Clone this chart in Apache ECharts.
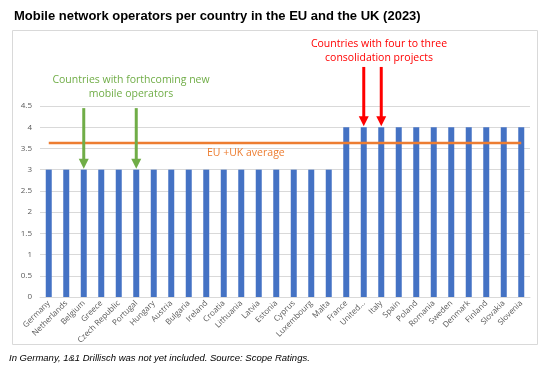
<!DOCTYPE html>
<html><head><meta charset="utf-8">
<script src="https://cdn.jsdelivr.net/npm/echarts@6/dist/echarts.min.js"></script>
<style>html,body{margin:0;padding:0;background:#fff}#c{width:550px;height:368px}</style>
</head><body><div id="c"></div>
<script>
const countries = ['Germany','Netherlands','Belgium','Greece','Czech Republic','Portugal','Hungary','Austria','Bulgaria','Ireland','Croatia','Lithuania','Latvia','Estonia','Cyprus','Luxembourg','Malta','France','United Kingdom','Italy','Spain','Poland','Romania','Sweden','Denmark','Finland','Slovakia','Slovenia'];
const operators = [3,3,3,3,3,3,3,3,3,3,3,3,3,3,3,3,3,4,4,4,4,4,4,4,4,4,4,4];
const euUkAverage = 3.63;
const yTicks = [0,0.5,1,1.5,2,2.5,3,3.5,4,4.5];
const newOperatorCountries = ['Belgium','Portugal'];
const consolidationCountries = ['United Kingdom','Italy'];
// arrow spans in axis units: [start value, tip value]
const greenArrowSpan = [4.45, 3.02];
const redArrowSpan = [5.42, 4.02];

const chart = echarts.init(document.getElementById('c'), null, {renderer:'canvas'});
const FONT = '"Liberation Sans", Arial, sans-serif';
const LBL = '"Open Sans", "Liberation Sans", sans-serif';
const baseGraphic = [
  {type:'rect', shape:{x:12.5, y:30.5, width:525, height:314}, style:{fill:'none', stroke:'#d9d9d9', lineWidth:1}, z:-1},
  {type:'text', style:{text:'In Germany, 1&1 Drillisch was not yet included. Source: Scope Ratings.', fontFamily:FONT, fontStyle:'italic', fontSize:9.5, fill:'#000'}, x:9, y:353},
  {type:'text', style:{text:'Countries with forthcoming new\nmobile operators', fontFamily:LBL, fontSize:10.5, fill:'#70AD47', align:'center', lineHeight:14}, x:131, y:73},
  {type:'text', style:{text:'Countries with four to three\nconsolidation projects', fontFamily:LBL, fontSize:10.5, fill:'#FF0000', align:'center', lineHeight:14}, x:379, y:37},
  {type:'text', style:{text:'EU +UK average', fontFamily:LBL, fontSize:10.5, fill:'#ED7D31', align:'left'}, x:207, y:148}
];
chart.setOption({
  animation:false,
  title:{text:'Mobile network operators per country in the EU and the UK (2023)', left:9, top:5,
    textStyle:{fontFamily:FONT, fontSize:13, fontWeight:'bold', color:'#000'}},
  grid:{left:40, right:20, top:106, bottom:71, containLabel:false},
  xAxis:{type:'category', data:countries,
    axisLine:{lineStyle:{color:'#d9d9d9', width:1}}, axisTick:{show:false},
    axisLabel:{rotate:45, interval:0, fontSize:8, color:'#595959', fontFamily:LBL, margin:5,
      formatter:v => v === 'United Kingdom' ? 'United...' : v}},
  yAxis:{type:'value', min:0, max:4.5, interval:0.5,
    axisLine:{show:false}, axisTick:{show:false},
    splitLine:{lineStyle:{color:'#d9d9d9', width:1}},
    axisLabel:{fontSize:8, color:'#595959', fontFamily:LBL, margin:8}},
  series:[
    {type:'bar', data:operators, barWidth:6, itemStyle:{color:'#4472C4'}, z:2},
    {type:'line', data:countries.map(() => euUkAverage), showSymbol:false, symbol:'none',
     lineStyle:{color:'#ED7D31', width:2.5}, itemStyle:{color:'#ED7D31'}, z:3}
  ],
  graphic:baseGraphic
});

function arrow(cat, span, color){
  const a = chart.convertToPixel({seriesIndex:0}, [cat, span[0]]);
  const b = chart.convertToPixel({seriesIndex:0}, [cat, span[1]]);
  const headH = 10, headW = 5;
  return [
    {type:'line', shape:{x1:a[0], y1:a[1], x2:b[0], y2:b[1]-headH+1}, style:{stroke:color, lineWidth:3}, z:10},
    {type:'polygon', shape:{points:[[b[0]-headW, b[1]-headH],[b[0]+headW, b[1]-headH],[b[0], b[1]]]}, style:{fill:color}, z:10}
  ];
}
const arrows = [];
newOperatorCountries.forEach(c => arrows.push(...arrow(c, greenArrowSpan, '#70AD47')));
consolidationCountries.forEach(c => arrows.push(...arrow(c, redArrowSpan, '#FF0000')));
chart.setOption({graphic: baseGraphic.concat(arrows)}, {replaceMerge:['graphic']});
</script></body></html>
